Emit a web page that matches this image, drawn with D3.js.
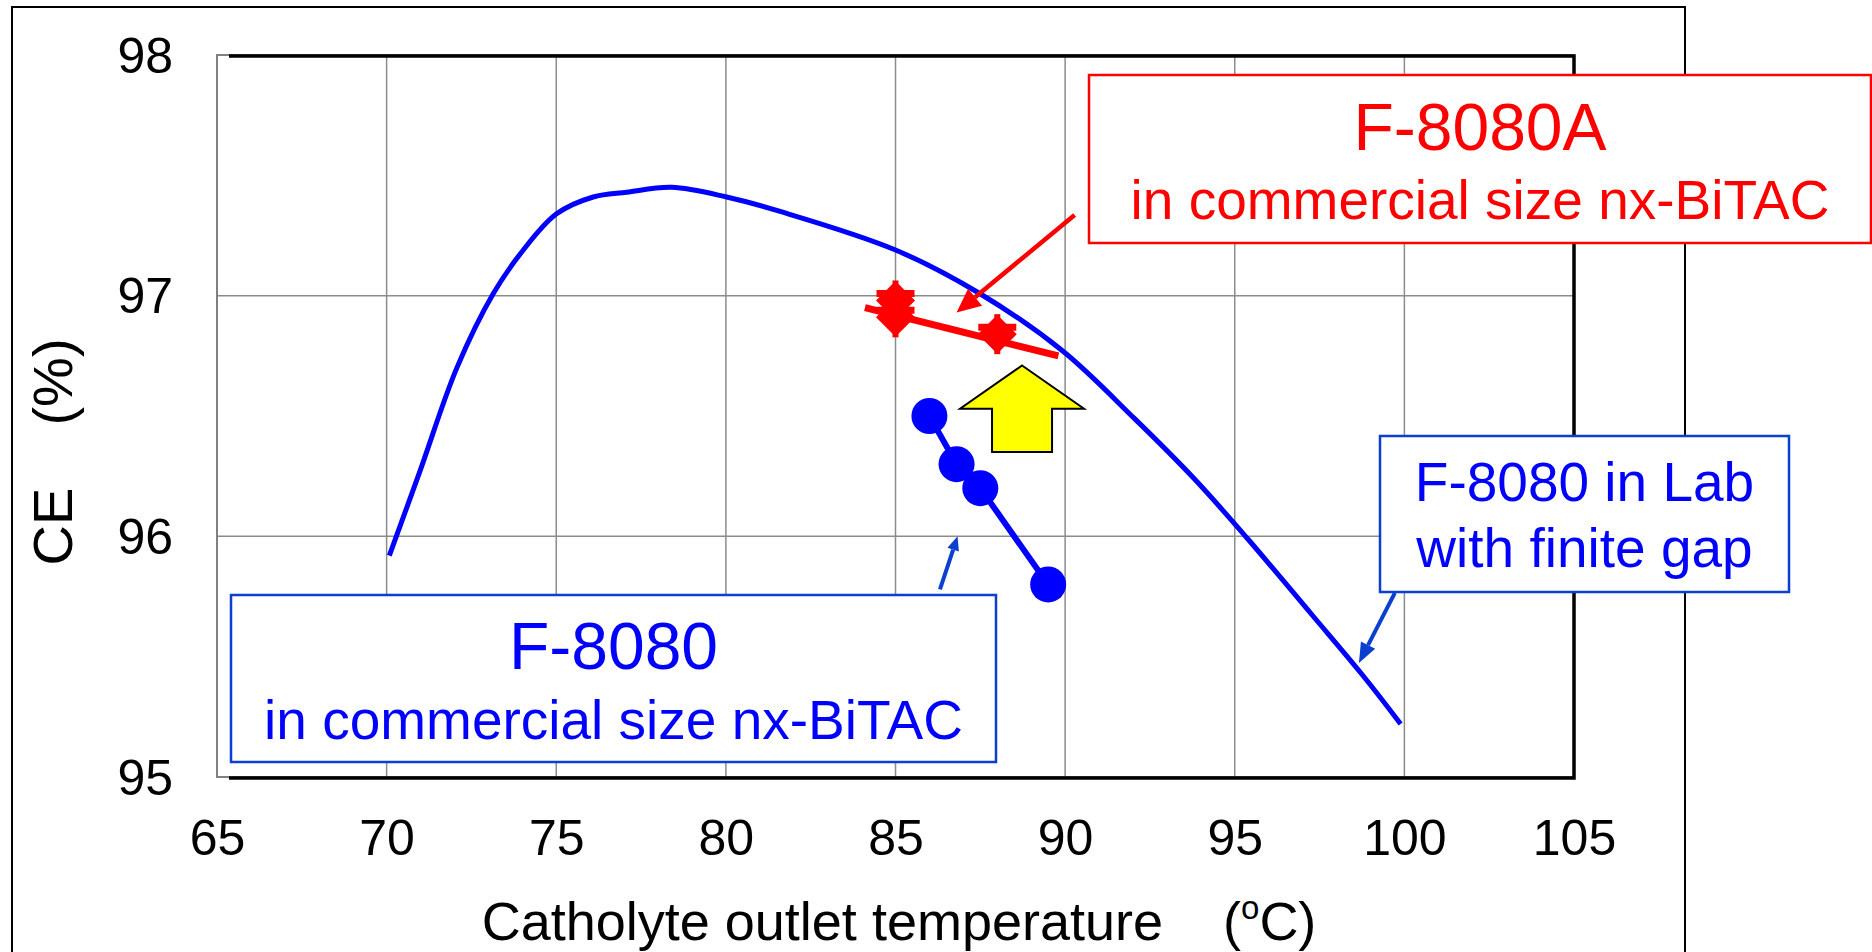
<!DOCTYPE html>
<html>
<head>
<meta charset="utf-8">
<script src="https://cdn.jsdelivr.net/npm/d3@7"></script>
<style>
  html, body { margin: 0; padding: 0; background: #fff; }
  svg { display: block; font-family: "Liberation Sans", Arial, sans-serif; }
</style>
</head>
<body>
<svg id="chart" width="1872" height="952"></svg>
<script>
// ---------- data ----------
const xTicks = [65, 70, 75, 80, 85, 90, 95, 100, 105];
const yTicks = [95, 96, 97, 98];

// F-8080 in Lab with finite gap (curve)
const labTemp = [70.08, 70.98, 72.07, 73.15, 74.03, 75.01, 76.09, 77.08, 78.40, 80.02, 81.6, 85.0, 87.47, 89.93, 92.04, 93.8, 95.38, 97.3, 98.73, 99.89];
const labCE   = [95.92, 96.27, 96.70, 97.01, 97.19, 97.34, 97.41, 97.43, 97.45, 97.41, 97.35, 97.19, 97.01, 96.77, 96.49, 96.24, 95.99, 95.67, 95.43, 95.22];

// F-8080 in commercial size nx-BiTAC
const f8080Temp = [86.0, 86.8, 87.5, 89.5];
const f8080CE   = [96.5, 96.3, 96.2, 95.8];

// F-8080A in commercial size nx-BiTAC
const f8080ATemp = [85.0, 85.0, 88.0];
const f8080ACE   = [96.98, 96.91, 96.84];
const f8080ATrendTemp = [84.1, 89.8];
const f8080ATrendCE   = [96.95, 96.75];

// ---------- layout ----------
const svg = d3.select("#chart");
const W = 1872, H = 952;
const plot = {left: 217, right: 1574, top: 55, bottom: 777};

const x = d3.scaleLinear().domain([65, 105]).range([plot.left, plot.right]);
const y = d3.scaleLinear().domain([95, 98]).range([plot.bottom, plot.top]);

svg.append("rect").attr("width", W).attr("height", H).attr("fill", "#fff");

// outer chart frame
svg.append("rect").attr("x", 12).attr("y", 7).attr("width", 1673).attr("height", 980)
  .attr("fill", "none").attr("stroke", "#000").attr("stroke-width", 2);

// gridlines
const grid = svg.append("g");
grid.selectAll("line.vx").data(xTicks.slice(1, -1)).join("line")
  .attr("x1", d => x(d)).attr("x2", d => x(d)).attr("y1", plot.top).attr("y2", plot.bottom)
  .attr("stroke", "#8c8c8c").attr("stroke-width", 1.5);
grid.selectAll("line.hy").data(yTicks.slice(1, -1)).join("line")
  .attr("y1", d => y(d)).attr("y2", d => y(d)).attr("x1", plot.left).attr("x2", plot.right)
  .attr("stroke", "#8c8c8c").attr("stroke-width", 1.5);

// plot frame (grey border + black shadow lines)
svg.append("rect").attr("x", plot.left).attr("y", plot.top)
  .attr("width", plot.right - plot.left).attr("height", plot.bottom - plot.top)
  .attr("fill", "none").attr("stroke", "#808080").attr("stroke-width", 2);
svg.append("path")
  .attr("d", `M${plot.left + 12},${plot.top + 1}H${plot.right}V${plot.bottom + 1}H${plot.left + 12}`)
  .attr("fill", "none").attr("stroke", "#000").attr("stroke-width", 3.5);

// axes (labels only)
const xAxis = d3.axisBottom(x).tickValues(xTicks).tickSize(0).tickPadding(0).tickFormat(d3.format("d"));
const gx = svg.append("g").attr("transform", `translate(0,${plot.bottom})`).call(xAxis);
gx.select(".domain").remove();
gx.selectAll("text").attr("font-size", 50).attr("font-family", "Liberation Sans, Arial, sans-serif")
  .attr("fill", "#000").attr("dy", null).attr("y", 78);

const yAxis = d3.axisLeft(y).tickValues(yTicks).tickSize(0).tickPadding(0).tickFormat(d3.format("d"));
const gy = svg.append("g").attr("transform", `translate(173,0)`).call(yAxis);
gy.select(".domain").remove();
gy.selectAll("text").attr("font-size", 50).attr("font-family", "Liberation Sans, Arial, sans-serif")
  .attr("fill", "#000").attr("dy", "0.34em").attr("x", 0);

// axis titles
const xt = svg.append("text").attr("x", 899).attr("y", 940).attr("text-anchor", "middle")
  .attr("font-size", 54).attr("fill", "#000").style("white-space", "pre");
xt.append("tspan").text("Catholyte outlet temperature    (");
xt.append("tspan").text("o").attr("font-size", 33).attr("dy", -21);
xt.append("tspan").text("C)").attr("dy", 21);

svg.append("text").attr("transform", "translate(72,452) rotate(-90)")
  .attr("text-anchor", "middle").attr("font-size", 56).attr("fill", "#000")
  .style("white-space", "pre").text("CE    (%)");

// ---------- series ----------
const labData = labTemp.map((t, i) => [t, labCE[i]]);
svg.append("path").datum(labData)
  .attr("d", d3.line().x(d => x(d[0])).y(d => y(d[1])).curve(d3.curveCatmullRom.alpha(0.5)))
  .attr("fill", "none").attr("stroke", "#0000ff").attr("stroke-width", 5)
  .attr("stroke-linejoin", "round");

// F-8080A trend line
const trend = f8080ATrendTemp.map((t, i) => [t, f8080ATrendCE[i]]);
svg.append("path").datum(trend)
  .attr("d", d3.line().x(d => x(d[0])).y(d => y(d[1])))
  .attr("stroke", "#ff0000").attr("stroke-width", 7).attr("fill", "none");

// F-8080A diamonds with error bars
const aData = f8080ATemp.map((t, i) => [t, f8080ACE[i]]);
const eb = svg.append("g");
aData.forEach(d => {
  const cx = x(d[0]), cy = y(d[1]);
  eb.append("line").attr("x1", cx).attr("x2", cx).attr("y1", cy - 20).attr("y2", cy + 20)
    .attr("stroke", "#ff0000").attr("stroke-width", 6);
  eb.append("line").attr("x1", cx - 19).attr("x2", cx + 19).attr("y1", cy - 7).attr("y2", cy - 7)
    .attr("stroke", "#ff0000").attr("stroke-width", 7);
});
svg.selectAll("path.dia").data(aData).join("path").attr("class", "dia")
  .attr("d", d3.symbol(d3.symbolSquare, 760)())
  .attr("transform", d => `translate(${x(d[0])},${y(d[1])}) rotate(45)`)
  .attr("fill", "#ff0000");

// F-8080 commercial line + dots
const fData = f8080Temp.map((t, i) => [t, f8080CE[i]]);
svg.append("path").datum(fData)
  .attr("d", d3.line().x(d => x(d[0])).y(d => y(d[1])))
  .attr("stroke", "#0000ff").attr("stroke-width", 6).attr("fill", "none");
svg.selectAll("circle.f").data(fData).join("circle").attr("class", "f")
  .attr("cx", d => x(d[0])).attr("cy", d => y(d[1])).attr("r", 18).attr("fill", "#0000ff");

// ---------- annotations ----------
// yellow block arrow (anchored in data space)
const ya = {t: 88.73, tip: 96.71, wing: 96.53, base: 96.35};
const yax = x(ya.t);
svg.append("path")
  .attr("d", `M${yax},${y(ya.tip)} L${yax + 62},${y(ya.wing)} L${yax + 30},${y(ya.wing)} L${yax + 30},${y(ya.base)}
              L${yax - 30},${y(ya.base)} L${yax - 30},${y(ya.wing)} L${yax - 62},${y(ya.wing)} Z`)
  .attr("fill", "#ffff00").attr("stroke", "#000").attr("stroke-width", 2).attr("stroke-linejoin", "miter");

function arrow(from, to, color, width, headLen, headW) {
  const x1 = x(from[0]), y1 = y(from[1]), x2 = x(to[0]), y2 = y(to[1]);
  const ang = Math.atan2(y2 - y1, x2 - x1);
  const bx = x2 - headLen * Math.cos(ang), by = y2 - headLen * Math.sin(ang);
  svg.append("line").attr("x1", x1).attr("y1", y1).attr("x2", bx).attr("y2", by)
    .attr("stroke", color).attr("stroke-width", width);
  const px = -Math.sin(ang) * headW, py = Math.cos(ang) * headW;
  svg.append("path").attr("d", `M${x2},${y2} L${bx + px},${by + py} L${bx - px},${by - py} Z`)
    .attr("fill", color);
}
arrow([90.28, 97.335], [86.80, 96.93], "#ff0000", 4.5, 24, 11);
arrow([86.31, 95.78], [86.83, 96.0], "#0a3fd0", 4, 14, 6);
arrow([99.72, 95.765], [98.66, 95.474], "#0a3fd0", 4, 20, 8);

// text boxes
function box(bx, by, bw, bh, stroke, lines) {
  svg.append("rect").attr("x", bx).attr("y", by).attr("width", bw).attr("height", bh)
    .attr("fill", "#fff").attr("stroke", stroke).attr("stroke-width", 2.5);
  lines.forEach(l => {
    svg.append("text").attr("x", bx + bw / 2).attr("y", l.y).attr("text-anchor", "middle")
      .attr("font-size", l.size).attr("fill", l.color).text(l.text);
  });
}
box(1089, 75, 782, 168, "#ff0000", [
  {text: "F-8080A", y: 150, size: 66, color: "#ff0000"},
  {text: "in commercial size nx-BiTAC", y: 219, size: 55, color: "#ff0000"}
]);
box(231, 595, 765, 167, "#0a3fd0", [
  {text: "F-8080", y: 669, size: 66, color: "#0000ff"},
  {text: "in commercial size nx-BiTAC", y: 739, size: 55, color: "#0000ff"}
]);
box(1380, 436, 409, 156, "#0a3fd0", [
  {text: "F-8080 in Lab", y: 501, size: 55, color: "#0000ff"},
  {text: "with finite gap", y: 567, size: 55, color: "#0000ff"}
]);
</script>
</body>
</html>
